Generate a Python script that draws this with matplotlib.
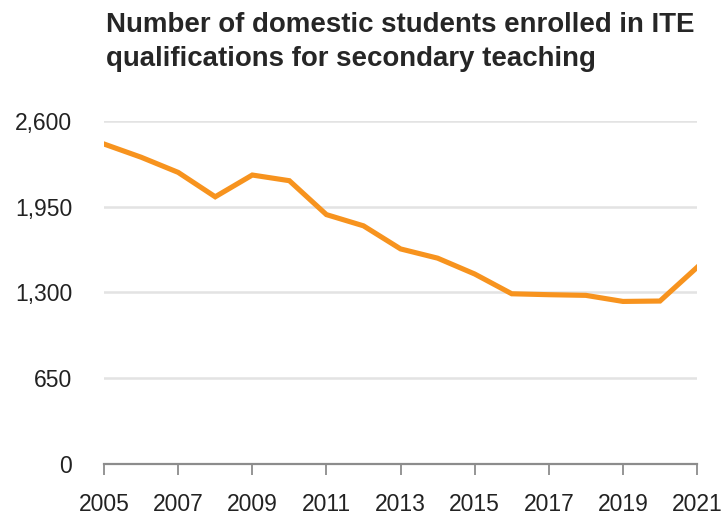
import matplotlib
matplotlib.use('Agg')
import matplotlib.pyplot as plt
import numpy as np

# data
years = [2005, 2006, 2007, 2008, 2009, 2010, 2011, 2012, 2013,
         2014, 2015, 2016, 2017, 2018, 2019, 2020, 2021]
students = [2425, 2325, 2210, 2025, 2190, 2147, 1890, 1805, 1630,
            1560, 1440, 1290, 1283, 1278, 1232, 1235, 1490]
yticks = [0, 650, 1300, 1950, 2600]
xticks = list(range(2005, 2022, 2))
title_lines = ['Number of domestic students enrolled in ITE',
               'qualifications for secondary teaching']

plt.rcParams['font.family'] = ['Liberation Sans', 'DejaVu Sans']

fig = plt.figure(figsize=(7.26, 5.19), dpi=100)
ax = fig.add_axes([0.1433, 0.106, 0.8168, 0.661])

ax.plot(years, students, color='#F7931E', lw=3.7, solid_joinstyle='miter', zorder=3)

ax.set_xlim(2005, 2021)
ax.set_ylim(0, 2600)
ax.set_yticks(yticks)
ax.set_yticklabels([f'{v:,}' for v in yticks])
ax.set_xticks(xticks)

ax.grid(axis='y', color='#e3e3e3', lw=1.8, zorder=0)
for s in ['top', 'right', 'left']:
    ax.spines[s].set_visible(False)
ax.spines['bottom'].set_color('#8c8c8c')
ax.spines['bottom'].set_linewidth(1.6)
ax.spines['bottom'].set_zorder(4)

ax.tick_params(axis='y', length=0, pad=23, labelsize=16.5, labelcolor='#222222')
ax.tick_params(axis='x', length=8, width=1.3, color='#8c8c8c', pad=13,
               labelsize=16.5, labelcolor='#222222')

# two-line title, set by baseline
fig.text(0.146, 1 - 32 / 519, title_lines[0], fontsize=19.9, fontweight='bold',
         va='baseline', ha='left', color='#262626')
fig.text(0.146, 1 - 66 / 519, title_lines[1], fontsize=19.9, fontweight='bold',
         va='baseline', ha='left', color='#262626')

fig.savefig('out.png', dpi=100)
